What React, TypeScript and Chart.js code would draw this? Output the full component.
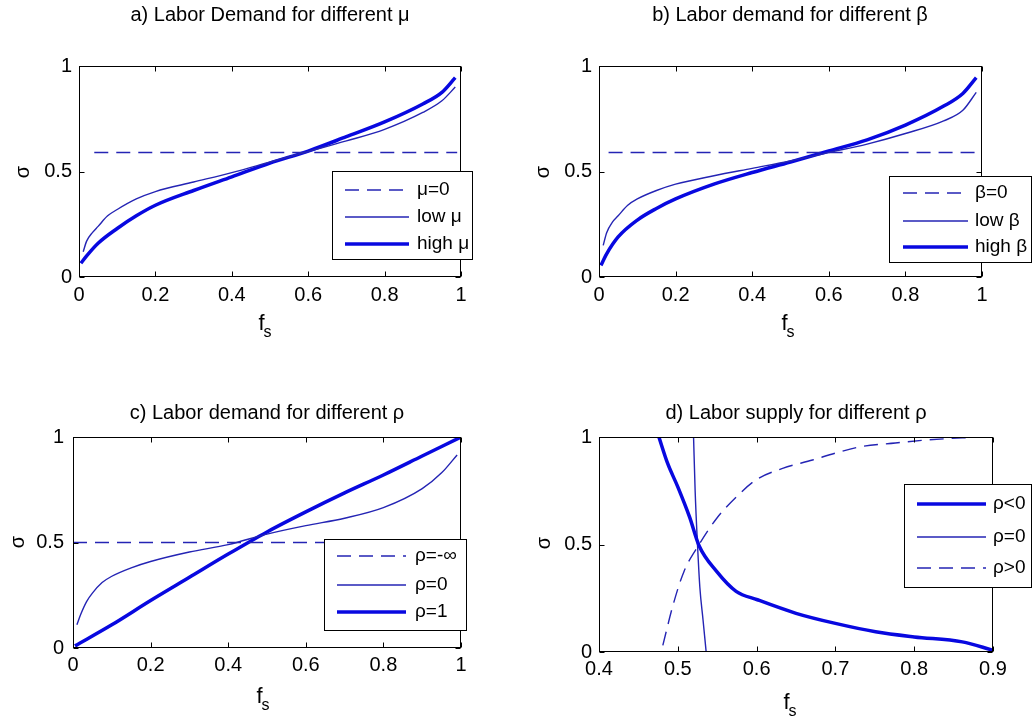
import React, { useEffect, useRef } from "react";
import { Chart, registerables } from "chart.js";

Chart.register(...registerables);

const FONT = '"Liberation Sans", Arial, Helvetica, sans-serif';
const THIN = "#2424b4";
const THICK = "#0808e0";

// ---- tick labels ----
const demandXTicks = [0, 0.2, 0.4, 0.6, 0.8, 1];
const supplyXTicks = [0.4, 0.5, 0.6, 0.7, 0.8, 0.9];
const sigmaTicks = [0, 0.5, 1];

// ---- panel a: labor demand for different mu ----
const aZeroX = [0.04, 0.99];
const aZeroY = [0.59, 0.59];
const aLowX = [0.011, 0.02, 0.035, 0.05, 0.075, 0.1, 0.15, 0.2, 0.3, 0.4, 0.5, 0.6, 0.7, 0.8, 0.9, 0.95, 0.985];
const aLowY = [0.12, 0.17, 0.21, 0.24, 0.29, 0.32, 0.37, 0.405, 0.45, 0.495, 0.545, 0.595, 0.645, 0.7, 0.78, 0.835, 0.9];
const aHighX = [0.005, 0.02, 0.05, 0.1, 0.15, 0.2, 0.3, 0.4, 0.5, 0.6, 0.7, 0.8, 0.9, 0.95, 0.985];
const aHighY = [0.065, 0.1, 0.16, 0.23, 0.29, 0.34, 0.41, 0.475, 0.54, 0.597, 0.665, 0.735, 0.82, 0.875, 0.945];

// ---- panel b: labor demand for different beta ----
const bZeroX = [0.025, 0.99];
const bZeroY = [0.59, 0.59];
const bLowX = [0.011, 0.02, 0.035, 0.05, 0.075, 0.1, 0.15, 0.2, 0.3, 0.4, 0.5, 0.6, 0.7, 0.8, 0.9, 0.95, 0.985];
const bLowY = [0.15, 0.21, 0.26, 0.29, 0.34, 0.37, 0.41, 0.44, 0.48, 0.515, 0.55, 0.59, 0.63, 0.68, 0.74, 0.79, 0.875];
const bHighX = [0.005, 0.02, 0.05, 0.1, 0.15, 0.2, 0.3, 0.4, 0.5, 0.6, 0.7, 0.8, 0.9, 0.95, 0.985];
const bHighY = [0.055, 0.11, 0.19, 0.27, 0.325, 0.37, 0.44, 0.495, 0.545, 0.597, 0.65, 0.72, 0.81, 0.87, 0.945];

// ---- panel c: labor demand for different rho ----
const cInfX = [0, 0.99];
const cInfY = [0.5, 0.5];
const cZeroX = [0.01, 0.02, 0.035, 0.05, 0.075, 0.1, 0.15, 0.2, 0.3, 0.4, 0.5, 0.6, 0.7, 0.8, 0.9, 0.95, 0.99];
const cZeroY = [0.11, 0.16, 0.22, 0.26, 0.31, 0.34, 0.38, 0.41, 0.455, 0.49, 0.54, 0.58, 0.615, 0.665, 0.755, 0.83, 0.915];
const cOneX = [0.005, 0.1, 0.2, 0.3, 0.4, 0.5, 0.6, 0.7, 0.8, 0.9, 1.0];
const cOneY = [0.01, 0.11, 0.225, 0.335, 0.445, 0.55, 0.645, 0.735, 0.82, 0.91, 1.0];

// ---- panel d: labor supply for different rho ----
const dNegX = [0.476, 0.487, 0.5, 0.515, 0.527, 0.549, 0.574, 0.601, 0.65, 0.7, 0.751, 0.8, 0.861, 0.9];
const dNegY = [1.0, 0.878, 0.768, 0.627, 0.494, 0.376, 0.282, 0.243, 0.18, 0.133, 0.094, 0.07, 0.047, 0.008];
const dZeroX = [0.52, 0.522, 0.525, 0.528, 0.532, 0.536];
const dZeroY = [1.0, 0.75, 0.5, 0.3, 0.15, 0.0];
const dPosX = [0.481, 0.494, 0.508, 0.527, 0.549, 0.574, 0.599, 0.633, 0.671, 0.7, 0.734, 0.776, 0.819, 0.882];
const dPosY = [0.031, 0.219, 0.376, 0.5, 0.62, 0.72, 0.8, 0.854, 0.893, 0.925, 0.956, 0.972, 0.987, 1.0];

type Kind = "dash" | "thin" | "thick";
interface Series { label: string; xs: number[]; ys: number[]; kind: Kind }
interface Panel {
  box: { left: number; top: number; w: number; h: number };
  area: { l: number; t: number; r: number; b: number };
  title: string; titleX: number; titleY: number;
  yLabX: number; yLabY: number; xLabX: number; xLabY: number;
  xMin: number; xMax: number; xTicks: number[];
  yPad: number; xPad: number;
  legend: { x: number; y: number; w: number; h: number; rows: number[]; l0: number; l1: number; tx: number };
  series: Series[];
}

const panels: Panel[] = [
  {
    box: { left: 0, top: 0, w: 516, h: 360 },
    area: { l: 79, t: 66, r: 461, b: 277 },
    title: "a) Labor Demand for different μ", titleX: 270, titleY: 15,
    yLabX: 23, yLabY: 172, xLabX: 265, xLabY: 330,
    xMin: 0, xMax: 1, xTicks: demandXTicks, yPad: 7, xPad: 6,
    legend: { x: 332, y: 171, w: 141, h: 89, rows: [190, 217, 244], l0: 345, l1: 409, tx: 417 },
    series: [
      { label: "μ=0", xs: aZeroX, ys: aZeroY, kind: "dash" },
      { label: "low μ", xs: aLowX, ys: aLowY, kind: "thin" },
      { label: "high μ", xs: aHighX, ys: aHighY, kind: "thick" },
    ],
  },
  {
    box: { left: 516, top: 0, w: 516, h: 360 },
    area: { l: 83, t: 66, r: 466, b: 277 },
    title: "b) Labor demand for different β", titleX: 274, titleY: 15,
    yLabX: 27, yLabY: 172, xLabX: 272, xLabY: 330,
    xMin: 0, xMax: 1, xTicks: demandXTicks, yPad: 7, xPad: 6,
    legend: { x: 373, y: 176, w: 142.5, h: 87, rows: [193, 221, 247], l0: 387, l1: 452, tx: 459 },
    series: [
      { label: "β=0", xs: bZeroX, ys: bZeroY, kind: "dash" },
      { label: "low β", xs: bLowX, ys: bLowY, kind: "thin" },
      { label: "high β", xs: bHighX, ys: bHighY, kind: "thick" },
    ],
  },
  {
    box: { left: 0, top: 360, w: 516, h: 359 },
    area: { l: 73, t: 77, r: 461, b: 288 },
    title: "c) Labor demand for different ρ", titleX: 267, titleY: 53,
    yLabX: 18, yLabY: 182, xLabX: 263, xLabY: 343,
    xMin: 0, xMax: 1, xTicks: demandXTicks, yPad: 9, xPad: 5,
    legend: { x: 324, y: 179, w: 143, h: 92, rows: [196, 225, 252], l0: 337, l1: 406, tx: 415 },
    series: [
      { label: "ρ=-∞", xs: cInfX, ys: cInfY, kind: "dash" },
      { label: "ρ=0", xs: cZeroX, ys: cZeroY, kind: "thin" },
      { label: "ρ=1", xs: cOneX, ys: cOneY, kind: "thick" },
    ],
  },
  {
    box: { left: 516, top: 360, w: 516, h: 359 },
    area: { l: 83, t: 77, r: 477, b: 292 },
    title: "d) Labor supply for different ρ", titleX: 280, titleY: 53,
    yLabX: 28, yLabY: 183, xLabX: 274, xLabY: 349,
    xMin: 0.4, xMax: 0.9, xTicks: supplyXTicks, yPad: 7, xPad: 5,
    legend: { x: 388, y: 124, w: 127.5, h: 104, rows: [144, 177, 208], l0: 401, l1: 470, tx: 477 },
    series: [
      { label: "ρ<0", xs: dNegX, ys: dNegY, kind: "thick" },
      { label: "ρ=0", xs: dZeroX, ys: dZeroY, kind: "thin" },
      { label: "ρ>0", xs: dPosX, ys: dPosY, kind: "dash" },
    ],
  },
];

function styleOf(kind: Kind) {
  if (kind === "thick") return { borderColor: THICK, borderWidth: 3.5, borderDash: [] as number[] };
  if (kind === "dash") return { borderColor: THIN, borderWidth: 1.4, borderDash: [14, 8] };
  return { borderColor: THIN, borderWidth: 1.4, borderDash: [] as number[] };
}

const matlabPlugin = {
  id: "matlab",
  afterDraw(chart: any, _args: any, opts: any) {
    const p: Panel = opts.panel;
    const ctx: CanvasRenderingContext2D = chart.ctx;
    const ca = chart.chartArea;
    const xs = chart.scales.x;
    const ys = chart.scales.y;
    ctx.save();
    // frame
    ctx.strokeStyle = "#000";
    ctx.lineWidth = 1;
    ctx.setLineDash([]);
    const L = Math.round(ca.left) + 0.5, R = Math.round(ca.right) - 0.5;
    const T = Math.round(ca.top) + 0.5, B = Math.round(ca.bottom) - 0.5;
    ctx.strokeRect(L, T, R - L, B - T);
    // inner ticks
    const tl = 5;
    ctx.beginPath();
    xs.ticks.forEach((t: any) => {
      const px = Math.round(xs.getPixelForValue(t.value)) + 0.5;
      ctx.moveTo(px, B); ctx.lineTo(px, B - tl);
      ctx.moveTo(px, T); ctx.lineTo(px, T + tl);
    });
    ys.ticks.forEach((t: any) => {
      const py = Math.round(ys.getPixelForValue(t.value)) + 0.5;
      ctx.moveTo(L, py); ctx.lineTo(L + tl, py);
      ctx.moveTo(R, py); ctx.lineTo(R - tl, py);
    });
    ctx.stroke();
    // title
    ctx.fillStyle = "#000";
    ctx.font = `20px ${FONT}`;
    ctx.textAlign = "center";
    ctx.textBaseline = "middle";
    ctx.fillText(p.title, p.titleX, p.titleY);
    // y label
    ctx.save();
    ctx.translate(p.yLabX, p.yLabY);
    ctx.rotate(-Math.PI / 2);
    ctx.font = `20px ${FONT}`;
    ctx.fillText("σ", 0, 0);
    ctx.restore();
    // x label f_s
    ctx.textAlign = "left";
    ctx.textBaseline = "alphabetic";
    ctx.font = `22px ${FONT}`;
    const wf = ctx.measureText("f").width;
    ctx.font = `16px ${FONT}`;
    const wsub = ctx.measureText("s").width;
    const x0 = p.xLabX - (wf + wsub - 1) / 2;
    ctx.font = `22px ${FONT}`;
    ctx.fillText("f", x0, p.xLabY);
    ctx.font = `16px ${FONT}`;
    ctx.fillText("s", x0 + wf - 1, p.xLabY + 7);
    // legend
    const lg = p.legend;
    ctx.fillStyle = "#fff";
    ctx.fillRect(lg.x, lg.y, lg.w, lg.h);
    ctx.strokeStyle = "#000";
    ctx.lineWidth = 1;
    ctx.strokeRect(Math.round(lg.x) + 0.5, Math.round(lg.y) + 0.5, Math.round(lg.w) - 1, Math.round(lg.h) - 1);
    chart.data.datasets.forEach((ds: any, i: number) => {
      const y = lg.rows[i];
      ctx.strokeStyle = ds.borderColor;
      ctx.lineWidth = ds.borderWidth;
      ctx.setLineDash(ds.borderDash || []);
      ctx.beginPath();
      ctx.moveTo(lg.l0, y);
      ctx.lineTo(lg.l1, y);
      ctx.stroke();
      ctx.setLineDash([]);
      ctx.fillStyle = "#000";
      ctx.font = `19px ${FONT}`;
      ctx.textAlign = "left";
      ctx.textBaseline = "middle";
      ctx.fillText(ds.label, lg.tx, y);
    });
    ctx.restore();
  },
};

function PanelChart({ p }: { p: Panel }) {
  const ref = useRef<HTMLCanvasElement | null>(null);
  useEffect(() => {
    if (!ref.current) return;
    const tickFont = { family: FONT, size: 20 };
    const chart = new Chart(ref.current, {
      type: "scatter",
      data: {
        datasets: p.series.map((s) => ({
          label: s.label,
          data: s.xs.map((x, i) => ({ x, y: s.ys[i] })),
          showLine: true,
          pointRadius: 0,
          pointHoverRadius: 0,
          fill: false,
          cubicInterpolationMode: "monotone" as const,
          ...styleOf(s.kind),
        })),
      },
      options: {
        responsive: false,
        animation: false,
        events: [],
        layout: { padding: { top: p.area.t, right: p.box.w - p.area.r, left: 0, bottom: 0 } },
        plugins: {
          legend: { display: false },
          tooltip: { enabled: false },
          title: { display: false },
          matlab: { panel: p },
        } as any,
        scales: {
          x: {
            type: "linear",
            position: "bottom",
            min: p.xMin,
            max: p.xMax,
            afterBuildTicks: (s: any) => { s.ticks = p.xTicks.map((v) => ({ value: v })); },
            afterFit: (s: any) => { s.height = p.box.h - p.area.b; },
            grid: { display: false, drawTicks: false },
            border: { display: false },
            ticks: {
              padding: p.xPad, font: tickFont, color: "#000", maxRotation: 0, autoSkip: false,
              callback: (v: any) => String(Math.round(Number(v) * 10) / 10),
            },
          },
          y: {
            type: "linear",
            position: "left",
            min: 0,
            max: 1,
            afterBuildTicks: (s: any) => { s.ticks = sigmaTicks.map((v) => ({ value: v })); },
            afterFit: (s: any) => { s.width = p.area.l; },
            grid: { display: false, drawTicks: false },
            border: { display: false },
            ticks: {
              padding: p.yPad, font: tickFont, color: "#000", autoSkip: false,
              callback: (v: any) => String(v),
            },
          },
        },
      } as any,
      plugins: [matlabPlugin],
    });
    return () => chart.destroy();
  }, [p]);
  return (
    <canvas
      ref={ref}
      width={p.box.w}
      height={p.box.h}
      style={{ position: "absolute", left: p.box.left, top: p.box.top, width: p.box.w, height: p.box.h }}
    />
  );
}

export default function App() {
  return (
    <div style={{ position: "fixed", left: 0, top: 0, width: 1032, height: 719, overflow: "hidden", background: "#fff" }}>
      {panels.map((p, i) => (
        <PanelChart key={i} p={p} />
      ))}
    </div>
  );
}
